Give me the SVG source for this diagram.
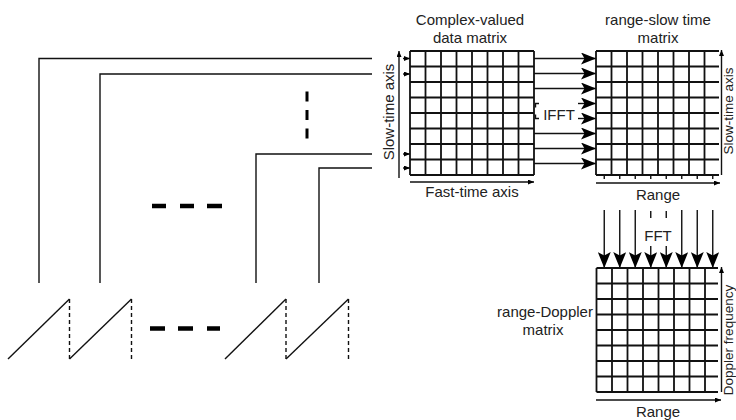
<svg xmlns="http://www.w3.org/2000/svg" width="736" height="420" viewBox="0 0 736 420">
<style>
.t{font-family:"Liberation Sans",Arial,sans-serif;font-size:15px;fill:#222;text-anchor:middle}
.r{font-size:13.5px}
.g{stroke:#111;stroke-width:1.8;fill:none}
.w{stroke:#111;stroke-width:1.4;fill:none}
.ax{stroke:#111;stroke-width:1.4;fill:none}
.dsh{stroke:#111;stroke-width:1.4;fill:none;stroke-dasharray:4 3}
.bar{stroke:#000;stroke-width:4.5;fill:none}
</style>
<defs>
<marker id="hb" markerUnits="userSpaceOnUse" markerWidth="15" markerHeight="12" refX="15" refY="6" orient="auto"><path d="M0,0 L15,6 L0,12 L3.5,6 z" fill="#000"/></marker>
<marker id="vb" markerUnits="userSpaceOnUse" markerWidth="16" markerHeight="13" refX="16" refY="6.5" orient="auto"><path d="M0,0 L16,6.5 L0,13 L3.5,6.5 z" fill="#000"/></marker>
<marker id="sm" markerUnits="userSpaceOnUse" markerWidth="6" markerHeight="5" refX="6" refY="2.5" orient="auto"><path d="M0,0 L6,2.5 L0,5 z" fill="#000"/></marker>
</defs>

<g id="signal">
<line class="w" x1="8" y1="359" x2="69.5" y2="299"/>
<line class="dsh" x1="69.5" y1="299" x2="69.5" y2="360"/>
<line class="w" x1="69.5" y1="359" x2="131.5" y2="299"/>
<line class="dsh" x1="131.5" y1="299" x2="131.5" y2="360"/>
<line class="w" x1="225" y1="359" x2="286" y2="299"/>
<line class="dsh" x1="286" y1="299" x2="286" y2="360"/>
<line class="w" x1="286" y1="359" x2="348.5" y2="299"/>
<line class="dsh" x1="348.5" y1="299" x2="348.5" y2="360"/>
<path class="bar" d="M150,328.5 H165 M178,328.5 H193 M207,328.5 H220"/>
<path class="bar" d="M152,206 H166 M180,206 H194 M207,206 H222" stroke-width="4"/>
<path d="M307,91.5 V101.5 M307,110 V120 M307,128.5 V138.5" stroke="#000" stroke-width="3" fill="none"/>
</g>

<g id="connectors">
<path class="ax" d="M39,283 V58.5 H372"/>
<path class="ax" d="M100,283 V74 H372"/>
<path class="ax" d="M256,283 V154 H372"/>
<path class="ax" d="M319,283 V168 H372"/>
<line class="ax" x1="403" y1="58.5" x2="410" y2="58.5" marker-end="url(#sm)"/>
<line class="ax" x1="403" y1="74" x2="410" y2="74" marker-end="url(#sm)"/>
<line class="ax" x1="403" y1="154" x2="410" y2="154" marker-end="url(#sm)"/>
<line class="ax" x1="403" y1="168" x2="410" y2="168" marker-end="url(#sm)"/>
<line class="ax" x1="534" y1="58.5" x2="596" y2="58.5" marker-end="url(#hb)"/>
<line class="ax" x1="534" y1="73.5" x2="596" y2="73.5" marker-end="url(#hb)"/>
<line class="ax" x1="534" y1="88.5" x2="596" y2="88.5" marker-end="url(#hb)"/>
<path class="ax" d="M539,103.5 H535.5 V107.5 M539,118.5 H535.5 V114.5"/>
<line class="ax" x1="578" y1="103.5" x2="596" y2="103.5" marker-end="url(#hb)"/>
<line class="ax" x1="578" y1="118.5" x2="596" y2="118.5" marker-end="url(#hb)"/>
<line class="ax" x1="534" y1="133.5" x2="596" y2="133.5" marker-end="url(#hb)"/>
<line class="ax" x1="534" y1="148.5" x2="596" y2="148.5" marker-end="url(#hb)"/>
<line class="ax" x1="534" y1="163.5" x2="596" y2="163.5" marker-end="url(#hb)"/>
<line class="ax" x1="604.25" y1="210" x2="604.25" y2="268" marker-end="url(#vb)"/>
<line class="ax" x1="619.75" y1="210" x2="619.75" y2="268" marker-end="url(#vb)"/>
<line class="ax" x1="635.25" y1="210" x2="635.25" y2="268" marker-end="url(#vb)"/>
<path class="ax" d="M650.75,211 V218 M666.25,211 V218"/>
<line class="ax" x1="650.75" y1="246" x2="650.75" y2="268" marker-end="url(#vb)"/>
<line class="ax" x1="666.25" y1="246" x2="666.25" y2="268" marker-end="url(#vb)"/>
<line class="ax" x1="681.75" y1="210" x2="681.75" y2="268" marker-end="url(#vb)"/>
<line class="ax" x1="697.25" y1="210" x2="697.25" y2="268" marker-end="url(#vb)"/>
<line class="ax" x1="712.75" y1="210" x2="712.75" y2="268" marker-end="url(#vb)"/>
<text class="t" x="559" y="120">IFFT</text>
<text class="t" x="658" y="241">FFT</text>
</g>

<g id="complex-matrix">
<text class="t" x="470" y="25">Complex-valued</text>
<text class="t" x="470" y="43">data matrix</text>
<path class="g" d="M410,51 H534 M410,66.5 H534 M410,82 H534 M410,97.5 H534 M410,113 H534 M410,128.5 H534 M410,144 H534 M410,159.5 H534 M410,175 H534
M410,51 V175 M425.5,51 V175 M441,51 V175 M456.5,51 V175 M472,51 V175 M487.5,51 V175 M503,51 V175 M518.5,51 V175 M534,51 V175"/>
<line class="ax" x1="399" y1="178" x2="399" y2="51" marker-end="url(#sm)"/>
<line class="ax" x1="410" y1="182" x2="534" y2="182" marker-end="url(#sm)"/>
<text class="t" transform="translate(394,112) rotate(-90)">Slow-time axis</text>
<text class="t" x="472" y="197">Fast-time axis</text>
</g>

<g id="range-slow-matrix">
<text class="t" x="658" y="25">range-slow time</text>
<text class="t" x="658" y="43">matrix</text>
<path class="g" d="M596,51 H719 M596,66.5 H719 M596,82 H719 M596,97.5 H719 M596,113 H719 M596,128.5 H719 M596,144 H719 M596,159.5 H719 M596,175 H719
M596,51 V175 M611.5,51 V175 M627,51 V175 M642.5,51 V175 M658,51 V175 M673.5,51 V175 M689,51 V175 M704.5,51 V175"/>
<path class="ax" d="M604.25,175 V179 M619.75,175 V179 M635.25,175 V179 M650.75,175 V179 M666.25,175 V179 M681.75,175 V179 M697.25,175 V179 M712.75,175 V179"/>
<line class="ax" x1="721.5" y1="175" x2="721.5" y2="50" marker-end="url(#sm)"/>
<line class="ax" x1="596" y1="183" x2="720" y2="183" marker-end="url(#sm)"/>
<text class="t" x="658" y="200">Range</text>
<text class="t r" transform="translate(732.5,111) rotate(-90)">Slow-time axis</text>
</g>

<g id="range-doppler-matrix">
<text class="t" x="545" y="317">range-Doppler</text>
<text class="t" x="543" y="335">matrix</text>
<path class="g" d="M596.5,268 H718 M596.5,283.5 H718 M596.5,299 H718 M596.5,314.5 H718 M596.5,330 H718 M596.5,345.5 H718 M596.5,361 H718 M596.5,376.5 H718 M596.5,392 H718
M596.5,268 V392 M612,268 V392 M627.5,268 V392 M643,268 V392 M658.5,268 V392 M674,268 V392 M689.5,268 V392 M705,268 V392"/>
<line class="ax" x1="721.5" y1="392" x2="721.5" y2="267" marker-end="url(#sm)"/>
<line class="ax" x1="596" y1="400" x2="721" y2="400" marker-end="url(#sm)"/>
<text class="t" x="658" y="417">Range</text>
<text class="t r" transform="translate(732.5,340) rotate(-90)">Doppler frequency</text>
</g>
</svg>
